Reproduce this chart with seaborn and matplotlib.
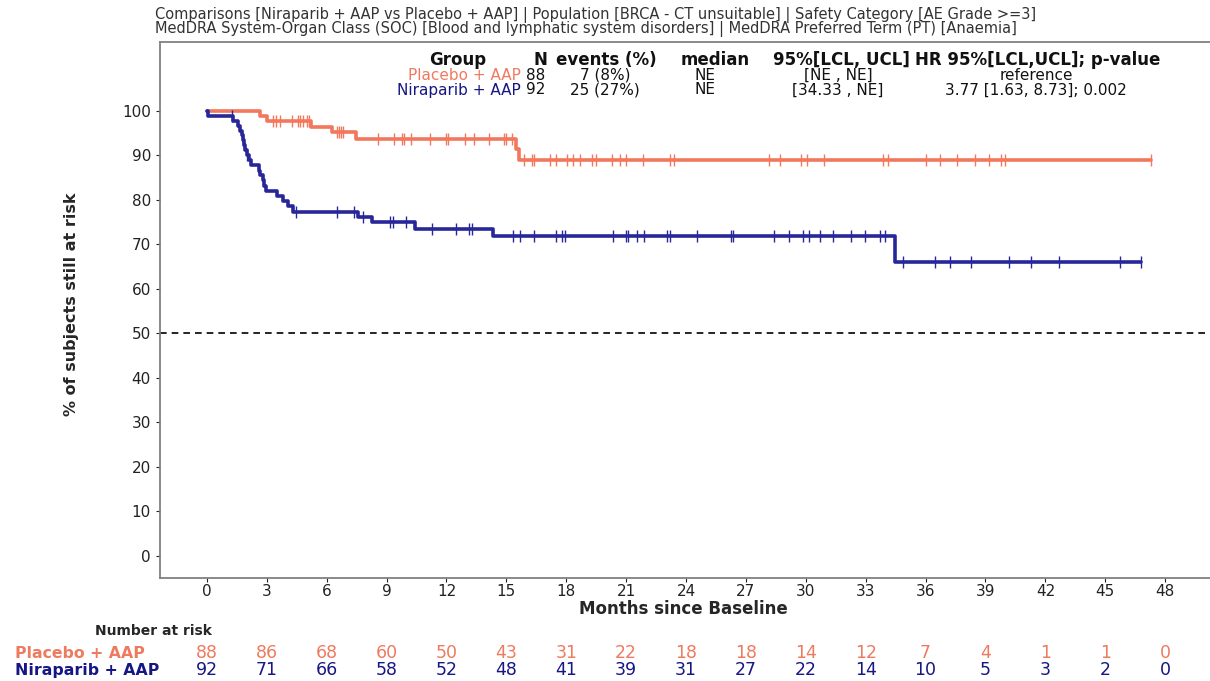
import numpy as np
import pandas as pd
import matplotlib
matplotlib.use("Agg")
import matplotlib.pyplot as plt
import seaborn as sns

# ---------------- data ----------------
groups = ["Placebo + AAP", "Niraparib + AAP"]
colors = {"Placebo + AAP": "#f2775c", "Niraparib + AAP": "#27279a"}
text_colors = {"Placebo + AAP": "#ee7a60", "Niraparib + AAP": "#161684"}

placebo_event_t = [2.66, 2.99, 5.21, 6.25, 7.47, 15.48, 15.65]
placebo_event_s = [98.9, 97.7, 96.5, 95.2, 93.7, 91.5, 89.0]
placebo_end = 47.31
placebo_cens = [3.29, 3.46, 3.66, 4.24, 4.54, 4.66, 4.79, 5.03, 5.13, 6.53, 6.63, 6.7, 6.8,
                8.55, 9.39, 9.75, 9.87, 10.2, 11.17, 11.97, 12.09, 12.93, 13.38, 14.15, 14.88,
                15.0, 15.26, 15.88, 16.27, 16.38, 17.2, 17.5, 18.03, 18.35, 18.71, 19.3, 19.47,
                20.31, 20.67, 20.99, 21.83, 23.21, 23.42, 28.18, 28.71, 29.76, 30.08, 30.93,
                33.88, 34.1, 36.0, 36.74, 37.58, 38.49, 39.17, 39.76, 39.97, 47.31]

nira_event_t = [0.03, 1.3, 1.55, 1.65, 1.75, 1.8, 1.85, 1.9, 2.0, 2.1, 2.2, 2.6, 2.65, 2.8,
                2.85, 2.95, 3.5, 3.8, 4.05, 4.3, 7.58, 8.25, 10.42, 14.35, 34.46]
nira_event_s = [98.9, 97.8, 96.7, 95.6, 94.5, 93.4, 92.3, 91.2, 90.1, 88.9, 87.8, 86.6, 85.5,
                84.4, 83.2, 82.1, 80.9, 79.8, 78.6, 77.4, 76.2, 75.0, 73.5, 72.0, 66.0]
nira_end = 46.81
nira_cens = [1.25, 1.8, 2.0, 4.46, 6.5, 7.36, 7.8, 9.17, 9.3, 9.97, 11.26, 12.47, 13.14, 13.29,
             15.31, 15.7, 16.38, 17.5, 17.78, 17.93, 20.32, 21.0, 21.1, 21.53, 21.89, 23.07,
             23.22, 24.56, 26.25, 26.36, 28.42, 29.16, 29.86, 30.16, 30.71, 31.34, 32.27,
             32.97, 33.72, 33.97, 34.88, 36.47, 37.21, 38.27, 40.18, 41.3, 42.68, 45.75, 46.81]

risk_times = list(range(0, 49, 3))
risk_placebo = [88, 86, 68, 60, 50, 43, 31, 22, 18, 18, 14, 12, 7, 4, 1, 1, 0]
risk_nira = [92, 71, 66, 58, 52, 48, 41, 39, 31, 27, 22, 14, 10, 5, 3, 2, 0]

title_lines = [
    "Comparisons [Niraparib + AAP vs Placebo + AAP] | Population [BRCA - CT unsuitable] | Safety Category [AE Grade >=3]",
    "MedDRA System-Organ Class (SOC) [Blood and lymphatic system disorders] | MedDRA Preferred Term (PT) [Anaemia]",
]
table_header = ["Group", "N", "events (%)", "median", "95%[LCL, UCL]", "HR 95%[LCL,UCL]; p-value"]
table_rows = [
    ["Placebo + AAP", "88", "7 (8%)", "NE", "[NE , NE]", "reference"],
    ["Niraparib + AAP", "92", "25 (27%)", "NE", "[34.33 , NE]", "3.77 [1.63, 8.73]; 0.002"],
]

# ---------------- figure ----------------
sns.set_style("ticks")
plt.rcParams["font.family"] = ["DejaVu Sans"]
W, H = 1210, 681
fig = plt.figure(figsize=(W / 100, H / 100), dpi=100)

def fx(px):
    return px / W

def fy(py):
    return 1 - py / H

ax_left, ax_right, ax_top, ax_bot = 160, 1258, 42, 578
ax = fig.add_axes([fx(ax_left), fy(ax_bot), fx(ax_right - ax_left), (ax_bot - ax_top) / H])

def step_frame(ev_t, ev_s, end, name):
    t = [0.0] + list(ev_t) + [end]
    s = [100.0] + list(ev_s) + [ev_s[-1]]
    return pd.DataFrame({"t": t, "s": s, "group": name})

curves = {
    "Placebo + AAP": (step_frame(placebo_event_t, placebo_event_s, placebo_end, "Placebo + AAP"), placebo_cens),
    "Niraparib + AAP": (step_frame(nira_event_t, nira_event_s, nira_end, "Niraparib + AAP"), nira_cens),
}

for g in groups:
    df, cens = curves[g]
    sns.lineplot(data=df, x="t", y="s", drawstyle="steps-post", estimator=None, sort=False,
                 color=colors[g], lw=2.6, ax=ax, legend=False)
    idx = np.searchsorted(df["t"].values, np.array(cens), side="right") - 1
    cy = df["s"].values[idx]
    ax.plot(cens, cy, ls="", marker="|", ms=9, mew=1.0, color=colors[g])

ax.axhline(50, color="black", ls="--", lw=1.2, dashes=(4, 3))

ax.set_xlim(-2.35, 52.65)
ax.set_ylim(-4.95, 115.5)
ax.set_xticks(risk_times)
ax.set_yticks(range(0, 101, 10))
ax.tick_params(labelsize=11, colors="#222222", length=3, width=0.8)
ax.tick_params(axis="x", pad=1.5)
for sp in ["left", "top", "bottom"]:
    ax.spines[sp].set_color("#808080")
    ax.spines[sp].set_linewidth(1.3)
ax.spines["right"].set_visible(False)

ax.set_xlabel("Months since Baseline", fontsize=12, fontweight="bold")
ax.xaxis.set_label_coords((683 - ax_left) / (ax_right - ax_left), -0.041)
ax.set_ylabel("% of subjects still at risk", fontsize=11.5, fontweight="bold")
ax.yaxis.set_label_coords(-0.074, 0.51)

# title
fig.text(fx(155), fy(15), title_lines[0], fontsize=10.5, color="#333333", va="center", ha="left")
fig.text(fx(155), fy(29), title_lines[1], fontsize=10.5, color="#333333", va="center", ha="left")

# summary table
hdr_pos = [(458, "center"), (540, "center"), (606, "center"), (715, "center"), (841, "center"), (1038, "center")]
for (x, ha), txt in zip(hdr_pos, table_header):
    fig.text(fx(x), fy(60), txt, fontsize=12, fontweight="bold", ha=ha, va="center", color="#111111")
row_pos = [(521, "right"), (536, "center"), (605, "center"), (705, "center"), (838, "center"), (1036, "center")]
row_y = [75, 90]
for r, row in enumerate(table_rows):
    for c, ((x, ha), txt) in enumerate(zip(row_pos, row)):
        col = text_colors[groups[r]] if c == 0 else "#111111"
        fig.text(fx(x), fy(row_y[r]), txt, fontsize=11, ha=ha, va="center", color=col)

# number at risk
fig.text(fx(212), fy(631), "Number at risk", fontsize=10, fontweight="bold", ha="right", va="center")
risk_y = {"Placebo + AAP": 653, "Niraparib + AAP": 670}
risk_vals = {"Placebo + AAP": risk_placebo, "Niraparib + AAP": risk_nira}
for g in groups:
    fig.text(fx(15), fy(risk_y[g]), g, fontsize=11.3, fontweight="bold", ha="left", va="center",
             color=text_colors[g])
    for t, n in zip(risk_times, risk_vals[g]):
        xd = ax.transData.transform((t, 0))[0]
        xf = fig.transFigure.inverted().transform((xd, 0))[0]
        fig.text(xf, fy(risk_y[g]), str(n), fontsize=12.5, ha="center", va="center", color=text_colors[g])

fig.savefig("out.png", dpi=100)
